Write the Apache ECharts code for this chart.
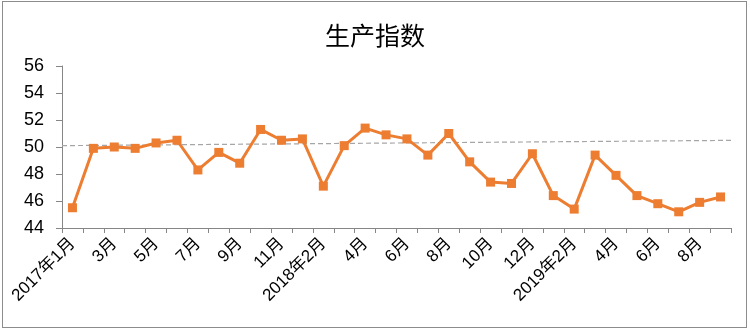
<!DOCTYPE html>
<html><head><meta charset="utf-8">
<script src="https://cdn.jsdelivr.net/npm/echarts@6/dist/echarts.min.js"></script>
<style>
html,body{margin:0;padding:0;background:#fff;}
#frame{position:absolute;left:2px;top:1px;width:745px;height:327px;border:1px solid #8c8c8c;box-sizing:border-box;}
#c{position:absolute;left:0;top:0;width:750px;height:331px;}
</style></head>
<body>
<div id="frame"></div>
<div id="c"></div>
<script>
var categories = ["2017年1月","2017年2月","2017年3月","2017年4月","2017年5月","2017年6月","2017年7月","2017年8月","2017年9月","2017年10月","2017年11月","2017年12月",
  "2018年2月","2018年3月","2018年4月","2018年5月","2018年6月","2018年7月","2018年8月","2018年9月","2018年10月","2018年11月","2018年12月",
  "2019年1月","2019年2月","2019年3月","2019年4月","2019年5月","2019年6月","2019年7月","2019年8月","2019年9月"];
var tickLabels = ["2017年1月","","3月","","5月","","7月","","9月","","11月","",
  "2018年2月","","4月","","6月","","8月","","10月","","12月",
  "","2019年2月","","4月","","6月","","8月",""];
var values = [45.5,49.9,50.0,49.9,50.3,50.5,48.3,49.6,48.8,51.3,50.5,50.6,
  47.1,50.1,51.4,50.9,50.6,49.4,51.0,48.9,47.4,47.3,49.5,
  46.4,45.4,49.4,47.9,46.4,45.8,45.2,45.9,46.3];
var yTicks = [44,46,48,50,52,54,56];
var refLine = [[0,50.1],[32.7,50.5]];

var chart = echarts.init(document.getElementById('c'));
chart.setOption({
  animation:false,
  title:{text:'生产指数',left:'center',top:18,textStyle:{fontFamily:'Noto Sans CJK SC',fontSize:25,fontWeight:'normal',color:'#000'}},
  grid:{left:62,right:19,top:66,bottom:103},
  xAxis:[{
    type:'category',data:categories,boundaryGap:true,
    axisLine:{lineStyle:{color:'#868686',width:1}},
    axisTick:{show:true,interval:0,length:5,lineStyle:{color:'#868686'}},
    axisLabel:{interval:0,rotate:45,margin:13,fontSize:17,color:'#000',fontFamily:'Liberation Sans, Noto Sans CJK SC',
      formatter:function(v,i){return tickLabels[i];}}
  },{
    type:'value',min:0,max:32,show:false
  }],
  yAxis:{
    type:'value',min:yTicks[0],max:yTicks[yTicks.length-1],interval:2,
    axisLine:{show:true,lineStyle:{color:'#868686'}},
    axisTick:{show:true,length:6,lineStyle:{color:'#868686'}},
    splitLine:{show:false},
    axisLabel:{fontSize:18,color:'#000',margin:18,fontFamily:'Liberation Sans'}
  },
  series:[{
    type:'line',xAxisIndex:1,data:refLine,symbol:'none',clip:false,silent:true,
    lineStyle:{color:'#a6a6a6',width:1.2,type:[5,3]},z:1
  },{
    type:'line',data:values,symbol:'rect',symbolSize:9,
    lineStyle:{color:'#ED7D31',width:3},itemStyle:{color:'#ED7D31'},z:3
  }]
});
</script>
</body></html>
